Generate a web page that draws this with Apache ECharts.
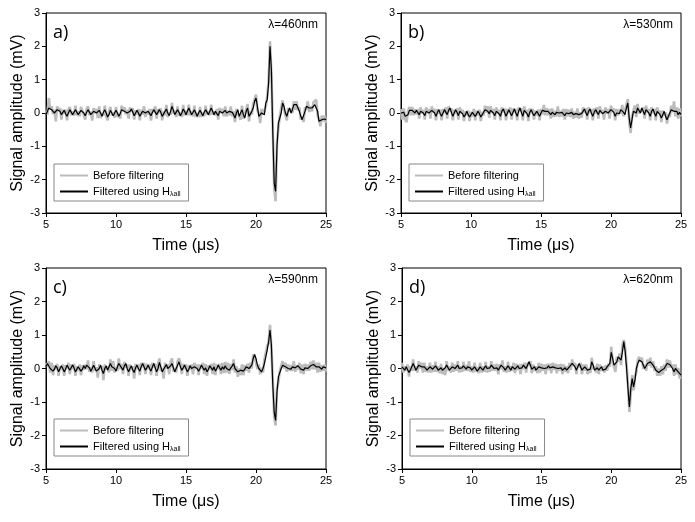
<!DOCTYPE html>
<html><head><meta charset="utf-8">
<script src="https://cdn.jsdelivr.net/npm/echarts@6/dist/echarts.min.js"></script>
<style>html,body{margin:0;padding:0;background:#fff}#c{width:695px;height:522px}</style>
</head><body><div id="c"></div>
<script>
// sampling grid (time, microseconds)
const tStart = 5, tStep = 0.1, nPts = 201;
const xTicks = [5, 10, 15, 20, 25];
const yTicks = [-3, -2, -1, 0, 1, 2, 3];
const panelLetters = ['a)', 'b)', 'c)', 'd)'];
const wavelengths = ['λ=460nm', 'λ=530nm', 'λ=590nm', 'λ=620nm'];
const seriesNames = ['Before filtering', 'Filtered using H'];

const aRaw = [
0.07,-0.05,0.45,0.1,0.2,-0.03,0.1,-0.25,0.2,0.05,
0.15,-0.2,0.1,-0.02,0.1,-0.22,0.1,0.18,-0.07,0.05,
-0.08,0.22,-0.07,0.05,-0.1,0.18,0.07,0.12,-0.2,0.12,
0.2,-0.07,0.05,-0.23,0.15,0.0,0.12,-0.15,0.2,-0.15,
0.0,-0.08,0.22,-0.1,-0.22,0.05,0.18,-0.07,0.02,-0.14,
0.18,-0.12,0.0,-0.17,0.22,0.05,0.17,-0.04,0.1,-0.17,
0.17,0.04,0.14,-0.2,0.08,-0.04,0.12,-0.22,0.1,-0.05,
0.2,-0.12,0.07,-0.05,0.12,-0.23,0.12,0.02,0.2,-0.17,
0.12,0.0,0.14,-0.22,0.05,-0.07,0.24,-0.12,0.02,-0.05,
0.3,-0.02,0.07,-0.12,0.2,-0.08,0.02,-0.12,0.24,-0.07,
0.07,-0.07,0.25,-0.07,0.05,-0.1,0.22,-0.12,0.0,-0.12,
0.18,-0.12,0.02,-0.1,0.22,-0.05,0.05,-0.07,0.25,-0.05,
0.05,-0.07,0.12,-0.2,0.15,0.0,0.12,-0.1,0.2,-0.1,
0.07,-0.07,0.2,-0.1,0.05,-0.27,0.12,0.0,0.0,-0.2,
0.22,-0.17,-0.05,-0.05,0.27,-0.25,0.05,-0.05,0.27,0.3,
0.55,0.08,0.0,-0.3,0.12,-0.05,0.07,0.2,0.5,0.95,
2.15,1.2,-0.45,-2.25,-2.65,-0.9,-0.45,-0.1,-0.12,0.38,
0.1,0.12,-0.22,0.15,0.05,0.12,0.0,0.35,0.1,0.35,
0.08,0.17,-0.2,-0.1,-0.27,0.17,0.1,0.35,0.03,0.2,
0.05,0.32,0.3,0.4,-0.07,-0.2,-0.4,-0.08,-0.25,-0.08,
-0.3];
const aFilt = [
-0.05,0.05,0.15,0.2,0.1,0.12,0.0,-0.05,0.1,0.15,
0.05,-0.05,0.0,0.08,-0.02,-0.1,0.0,0.1,0.05,-0.05,
0.02,0.1,0.05,-0.05,0.0,0.08,0.12,0.0,-0.08,0.02,
0.1,0.05,-0.05,-0.08,0.05,0.1,0.0,-0.05,0.08,0.0,
-0.1,0.02,0.1,0.0,-0.12,-0.05,0.08,0.05,-0.08,-0.02,
0.08,0.0,-0.1,-0.02,0.1,0.15,0.05,0.08,0.0,-0.05,
0.05,0.12,0.02,-0.08,-0.02,0.08,0.0,-0.1,-0.02,0.05,
0.1,0.0,-0.05,0.05,0.0,-0.08,0.02,0.1,0.05,-0.05,
0.0,0.1,0.02,-0.1,-0.05,0.05,0.12,0.0,-0.08,0.05,
0.2,0.08,-0.05,0.0,0.1,0.02,-0.08,0.0,0.12,0.05,
-0.05,0.05,0.15,0.05,-0.05,0.02,0.1,0.0,-0.1,0.0,
0.08,0.0,-0.08,0.02,0.1,0.05,-0.05,0.05,0.15,0.05,
-0.05,0.05,0.0,-0.08,0.05,0.1,0.0,0.02,0.08,0.0,
-0.05,0.05,0.1,0.02,-0.05,-0.15,0.0,0.1,-0.1,-0.05,
0.1,-0.05,-0.15,0.05,0.15,-0.1,-0.05,0.05,0.15,0.35,
0.45,0.2,-0.1,-0.15,0.0,0.05,-0.05,0.3,0.4,0.9,
2.0,1.3,-0.6,-2.1,-2.35,-1.0,-0.3,-0.25,0.0,0.3,
0.2,0.0,-0.1,0.05,0.15,0.0,0.1,0.25,0.2,0.25,
0.2,0.05,-0.1,-0.2,-0.15,0.05,0.2,0.25,0.15,0.1,
0.15,0.2,0.25,0.3,0.05,-0.25,-0.3,-0.2,-0.15,-0.18,
-0.2];

const bRaw = [
0.12,-0.2,0.14,-0.2,-0.27,0.05,0.18,-0.07,0.18,-0.07,
0.12,-0.04,0.12,-0.17,0.17,-0.02,0.1,-0.2,0.17,0.0,
0.12,-0.17,0.2,0.02,0.12,-0.22,0.12,-0.02,0.1,-0.22,
0.12,0.0,0.17,-0.17,0.2,0.05,0.14,-0.22,0.1,-0.02,
0.14,-0.2,0.17,0.0,0.1,-0.24,0.05,-0.07,0.07,-0.24,
0.04,-0.1,0.12,-0.22,0.07,-0.07,0.1,-0.24,0.04,-0.08,
0.22,0.02,0.2,-0.14,0.2,0.0,0.12,-0.2,0.17,-0.02,
0.1,-0.22,0.17,0.02,0.14,-0.22,0.12,0.0,0.17,-0.2,
0.14,0.02,0.12,-0.22,0.17,0.05,0.14,-0.22,0.2,0.0,
0.1,-0.24,0.14,0.0,0.12,-0.2,0.07,-0.07,0.1,-0.22,
0.12,-0.04,0.24,-0.07,0.14,-0.07,0.12,-0.17,0.14,-0.12,
0.07,-0.1,0.2,-0.12,0.07,-0.1,0.12,-0.2,0.12,-0.1,
0.1,-0.12,0.14,-0.17,0.04,-0.14,0.14,-0.17,0.02,-0.14,
0.17,0.0,0.14,-0.2,0.17,0.0,0.12,-0.22,0.14,-0.02,
0.17,-0.17,0.2,0.0,0.1,-0.2,0.17,-0.02,0.12,-0.17,
0.22,0.03,0.14,-0.22,0.12,-0.07,0.1,-0.02,0.24,-0.1,
0.07,0.05,0.42,-0.25,-0.6,-0.1,-0.07,0.22,-0.12,0.27,
-0.02,0.12,0.03,0.17,-0.17,0.22,0.03,0.12,-0.22,0.17,
0.0,0.12,-0.22,0.17,-0.02,0.07,-0.27,0.07,-0.07,0.02,
-0.32,-0.03,-0.12,0.22,0.03,0.35,-0.1,0.17,-0.17,0.14,
-0.1];
const bFilt = [
0.0,-0.05,0.02,-0.1,-0.15,-0.05,0.08,0.05,0.08,0.05,
0.0,0.08,0.02,-0.05,0.05,0.1,0.0,-0.08,0.05,0.1,
0.0,-0.05,0.08,0.12,0.0,-0.1,0.02,0.1,-0.02,-0.1,
0.0,0.1,0.05,-0.05,0.08,0.15,0.02,-0.1,0.0,0.1,
0.02,-0.08,0.05,0.1,-0.02,-0.12,-0.05,0.05,-0.05,-0.12,
-0.08,0.02,0.0,-0.1,-0.05,0.05,-0.02,-0.12,-0.08,0.02,
0.1,0.12,0.05,-0.02,0.08,0.12,0.0,-0.08,0.05,0.1,
-0.02,-0.1,0.05,0.12,0.02,-0.1,0.0,0.1,0.05,-0.08,
0.02,0.12,0.0,-0.1,0.05,0.15,0.02,-0.1,0.08,0.12,
-0.02,-0.12,0.02,0.1,0.0,-0.08,-0.05,0.05,-0.02,-0.1,
0.0,0.08,0.12,0.05,0.02,0.05,0.0,-0.05,0.02,0.0,
-0.05,0.02,0.08,0.0,-0.05,0.02,0.0,-0.08,0.0,0.02,
-0.02,0.0,0.02,-0.05,-0.08,-0.02,0.02,-0.05,-0.1,-0.02,
0.05,0.12,0.02,-0.08,0.05,0.12,0.0,-0.1,0.02,0.1,
0.05,-0.05,0.08,0.12,-0.02,-0.08,0.05,0.1,0.0,-0.05,
0.1,0.15,0.02,-0.1,0.0,0.05,-0.02,0.1,0.12,0.02,
-0.05,0.15,0.3,-0.15,-0.45,-0.2,0.05,0.1,0.0,0.15,
0.1,0.0,0.15,0.05,-0.05,0.1,0.15,0.0,-0.1,0.05,
0.12,0.0,-0.1,0.05,0.1,-0.05,-0.15,-0.05,0.05,-0.1,
-0.2,-0.15,0.0,0.1,0.15,0.05,0.02,0.05,-0.05,0.02,
-0.05];

const cRaw = [
0.17,0.05,0.22,-0.12,0.17,-0.2,0.1,-0.04,0.14,-0.22,
0.07,-0.04,0.12,-0.22,0.1,-0.02,0.17,-0.17,0.12,-0.02,
0.14,-0.22,0.07,-0.07,0.12,-0.2,0.1,-0.04,0.12,-0.02,
0.24,-0.1,0.04,-0.12,0.22,-0.07,0.04,-0.27,0.12,-0.02,
0.07,-0.35,0.12,-0.04,0.07,-0.12,0.27,-0.07,0.22,-0.12,
0.04,-0.07,0.3,-0.02,0.14,-0.17,0.2,0.03,0.12,-0.22,
0.12,-0.04,0.07,-0.3,0.14,-0.02,0.12,-0.2,0.17,0.03,
0.17,-0.17,0.14,-0.02,0.12,-0.2,0.17,0.03,0.14,-0.22,
0.12,0.3,-0.07,0.02,-0.3,0.17,0.0,0.12,-0.17,0.2,
0.3,-0.1,0.02,-0.12,0.22,0.3,0.17,-0.17,0.14,-0.02,
0.12,-0.22,0.1,-0.04,0.12,-0.17,0.17,-0.02,0.12,-0.2,
0.12,-0.02,0.17,-0.17,0.14,-0.22,0.1,-0.04,0.14,-0.17,
0.17,-0.2,0.12,-0.02,0.14,-0.17,0.17,-0.14,0.2,-0.12,
0.17,-0.17,0.14,-0.04,0.27,-0.12,0.07,-0.25,0.0,-0.2,
0.12,-0.2,0.1,-0.07,0.14,-0.12,0.17,0.0,0.42,0.35,
0.4,-0.02,0.12,-0.17,0.02,-0.12,0.27,0.25,0.68,0.75,
1.3,0.6,-0.35,-1.45,-1.7,-0.6,-0.4,-0.08,-0.12,0.22,
0.0,0.17,-0.1,0.12,-0.07,0.1,-0.07,0.22,-0.1,0.1,
-0.04,0.17,-0.14,0.12,-0.17,0.14,-0.07,0.12,-0.07,0.2,
-0.02,0.24,-0.02,0.17,-0.12,0.17,-0.1,0.1,-0.07,0.12,
-0.1];
const cFilt = [
0.05,0.15,0.1,0.0,0.05,-0.08,-0.02,0.08,0.02,-0.1,
-0.05,0.08,0.0,-0.1,-0.02,0.1,0.05,-0.05,0.0,0.1,
0.02,-0.1,-0.05,0.05,0.0,-0.08,-0.02,0.08,0.0,0.1,
0.12,0.02,-0.08,0.0,0.1,0.05,-0.08,-0.12,0.0,0.1,
-0.05,-0.15,0.0,0.08,-0.05,0.0,0.15,0.05,0.1,0.0,
-0.08,0.05,0.15,0.1,0.02,-0.05,0.08,0.15,0.0,-0.1,
0.0,0.08,-0.05,-0.12,0.02,0.1,0.0,-0.08,0.05,0.15,
0.05,-0.05,0.02,0.1,0.0,-0.08,0.05,0.15,0.02,-0.1,
0.0,0.18,0.05,-0.1,-0.15,0.05,0.12,0.0,-0.05,0.08,
0.15,0.02,-0.1,0.0,0.1,0.2,0.05,-0.05,0.02,0.1,
0.0,-0.1,-0.02,0.08,0.0,-0.05,0.05,0.1,0.0,-0.08,
0.0,0.1,0.05,-0.05,0.02,-0.1,-0.02,0.08,0.02,-0.05,
0.05,-0.08,0.0,0.1,0.02,-0.05,0.05,-0.02,0.08,0.0,
0.05,-0.05,0.02,0.08,0.15,0.0,-0.05,-0.1,-0.12,-0.05,
0.0,-0.08,-0.02,0.05,0.02,0.0,0.05,0.1,0.3,0.42,
0.3,0.1,0.0,-0.05,-0.1,0.0,0.15,0.35,0.55,0.8,
1.15,0.7,-0.5,-1.3,-1.55,-0.7,-0.25,-0.2,0.0,0.1,
0.12,0.05,0.02,0.0,0.05,-0.02,0.05,0.1,0.02,-0.02,
0.08,0.05,-0.02,0.0,-0.05,0.02,0.05,0.0,0.05,0.08,
0.1,0.12,0.1,0.05,0.0,0.05,0.02,-0.02,0.05,0.0,
0.02];

const dRaw = [
0.17,-0.12,0.07,-0.07,0.12,-0.24,0.07,-0.07,0.27,-0.07,
0.07,-0.12,0.22,0.0,0.17,-0.12,0.17,-0.1,0.07,-0.12,
0.17,-0.12,0.1,-0.1,0.2,-0.1,0.07,-0.14,0.14,-0.17,
0.02,-0.2,0.22,-0.07,0.07,-0.12,0.17,-0.1,0.12,-0.07,
0.22,-0.12,0.07,-0.1,0.2,-0.07,0.1,-0.07,0.22,-0.1,
0.07,-0.12,0.17,-0.1,0.04,-0.14,0.17,-0.12,0.07,-0.1,
0.2,-0.12,0.07,-0.1,0.22,-0.07,0.12,-0.07,0.14,-0.17,
0.12,-0.02,0.24,-0.1,0.07,-0.12,0.2,-0.1,0.07,-0.07,
0.17,-0.14,0.14,-0.04,0.12,-0.17,0.14,-0.02,0.17,-0.12,
0.17,0.08,0.22,-0.14,0.12,-0.07,0.07,-0.14,0.17,-0.12,
0.14,-0.07,0.12,-0.17,0.14,-0.04,0.14,-0.14,0.17,-0.04,
0.14,-0.14,0.12,-0.07,0.14,-0.17,0.12,-0.1,0.07,-0.14,
0.17,-0.04,0.27,0.08,0.17,-0.17,0.12,0.03,0.17,-0.17,
0.12,-0.07,0.12,-0.17,0.02,-0.14,0.32,-0.02,0.07,-0.12,
0.14,-0.17,0.12,-0.07,0.07,-0.12,0.1,-0.07,0.14,0.05,
0.65,0.2,0.25,-0.1,0.35,0.2,0.45,0.1,0.7,0.85,
0.6,0.1,-0.5,-1.3,-0.75,-0.2,-0.65,-0.25,-0.1,0.25,
0.35,0.2,0.32,-0.02,0.12,-0.07,0.27,0.08,0.32,0.03,
0.22,-0.07,0.07,-0.22,0.0,-0.22,0.07,-0.17,0.12,-0.07,
0.27,0.03,0.24,0.03,0.12,-0.22,0.12,-0.17,0.02,-0.27,
-0.3];
const dFilt = [
0.05,0.0,-0.05,0.05,0.0,-0.12,-0.05,0.05,0.15,0.05,
-0.05,0.0,0.1,0.12,0.05,0.0,0.05,0.02,-0.05,0.0,
0.05,0.0,-0.02,0.02,0.08,0.02,-0.05,-0.02,0.02,-0.05,
-0.1,0.02,0.1,0.05,-0.05,0.0,0.05,0.02,0.0,0.05,
0.1,0.0,-0.05,0.02,0.08,0.05,-0.02,0.05,0.1,0.02,
-0.05,0.0,0.05,0.02,-0.08,-0.02,0.05,0.0,-0.05,0.02,
0.08,0.0,-0.05,0.02,0.1,0.05,0.0,0.05,0.02,-0.05,
0.0,0.1,0.12,0.02,-0.05,0.0,0.08,0.02,-0.05,0.05,
0.05,-0.02,0.02,0.08,0.0,-0.05,0.02,0.1,0.05,0.0,
0.05,0.2,0.1,-0.02,0.0,0.05,-0.05,-0.02,0.05,0.0,
0.02,0.05,0.0,-0.05,0.02,0.08,0.02,-0.02,0.05,0.08,
0.02,-0.02,0.0,0.05,0.02,-0.05,0.0,0.02,-0.05,-0.02,
0.05,0.08,0.15,0.2,0.05,-0.05,0.0,0.15,0.05,-0.05,
0.0,0.05,0.0,-0.05,-0.1,-0.02,0.2,0.1,-0.05,0.0,
0.02,-0.05,0.0,0.05,-0.05,0.0,-0.02,0.05,0.02,0.15,
0.48,0.3,0.1,0.05,0.2,0.35,0.3,0.25,0.5,0.8,
0.5,0.0,-0.6,-1.15,-0.6,-0.3,-0.55,-0.35,0.0,0.15,
0.25,0.3,0.2,0.1,0.0,0.05,0.15,0.2,0.2,0.15,
0.1,0.05,-0.05,-0.1,-0.12,-0.1,-0.05,-0.05,0.0,0.05,
0.15,0.15,0.12,0.15,0.0,-0.1,0.0,-0.05,-0.1,-0.15,
-0.2];

const rawSets = [aRaw, bRaw, cRaw, dRaw];
const filtSets = [aFilt, bFilt, cFilt, dFilt];

const times = [];
for (let i = 0; i < nPts; i++) times.push(+(tStart + i * tStep).toFixed(2));
const pair = (arr) => arr.map((v, i) => [times[i], v]);

const FONT = 'Liberation Sans, Arial, sans-serif';
const GRAY = '#bcbcbc';
const grids = [
  {left: 46, top: 13, width: 280, height: 200},
  {left: 401, top: 13, width: 280, height: 200},
  {left: 46, top: 268, width: 280, height: 201},
  {left: 402, top: 268, width: 279, height: 201}
];

const option = {
  animation: false,
  backgroundColor: '#fff',
  grid: grids.map(g => Object.assign({show: true, borderColor: '#000', borderWidth: 1, backgroundColor: 'transparent'}, g)),
  xAxis: grids.map((g, k) => ({
    type: 'value', gridIndex: k, min: xTicks[0], max: xTicks[xTicks.length - 1], interval: 5,
    name: 'Time (μs)', nameLocation: 'middle', nameGap: 25,
    nameTextStyle: {fontFamily: FONT, fontSize: 16, color: '#000'},
    axisLine: {show: true, onZero: false, lineStyle: {color: '#000', width: 1}},
    axisTick: {show: true, inside: false, length: 4, lineStyle: {color: '#000'}},
    axisLabel: {fontFamily: FONT, fontSize: 11, color: '#000', margin: 6},
    splitLine: {show: false}
  })),
  yAxis: grids.map((g, k) => ({
    type: 'value', gridIndex: k, min: yTicks[0], max: yTicks[yTicks.length - 1], interval: 1,
    name: 'Signal amplitude (mV)', nameLocation: 'middle', nameGap: 20,
    nameTextStyle: {fontFamily: FONT, fontSize: 16, color: '#000'},
    axisLine: {show: true, onZero: false, lineStyle: {color: '#000', width: 1}},
    axisTick: {show: true, inside: false, length: 4, lineStyle: {color: '#000'}},
    axisLabel: {fontFamily: FONT, fontSize: 11, color: '#000', margin: 6},
    splitLine: {show: false}
  })),
  legend: grids.map((g, k) => ({
    data: [
      {name: seriesNames[0], icon: 'rect', itemStyle: {color: GRAY}},
      {name: seriesNames[1], icon: 'rect', itemStyle: {color: '#000'}}
    ],
    orient: 'vertical', left: g.left + 8, top: g.top + 151,
    selectedMode: false, itemWidth: 28, itemHeight: 2, itemGap: 3,
    padding: [5, 8, 3, 6], borderColor: '#888', borderWidth: 1, backgroundColor: '#fff',
    formatter: (name) => name === seriesNames[1] ? name + '{sub|λall}' : name,
    textStyle: {fontFamily: FONT, fontSize: 11, color: '#000', lineHeight: 13,
      rich: {sub: {fontFamily: FONT, fontSize: 7, color: '#000', padding: [6, 0, 0, 0]}}}
  })),
  graphic: grids.flatMap((g, k) => [
    {type: 'text', left: g.left + 7, top: g.top + 11, z: 10,
      style: {text: panelLetters[k], font: '18px "Open Sans", sans-serif', fill: '#000'}},
    {type: 'text', right: 695 - (g.left + g.width) + 8, top: g.top + 6, z: 10,
      style: {text: wavelengths[k], font: '12px ' + FONT, fill: '#000'}}
  ]),
  series: []
};

for (let k = 0; k < 4; k++) {
  option.series.push({
    name: seriesNames[0], type: 'line', xAxisIndex: k, yAxisIndex: k,
    data: pair(rawSets[k]), showSymbol: false, symbol: 'none', z: 2,
    lineStyle: {color: GRAY, width: 2.6}, itemStyle: {color: GRAY}
  });
  option.series.push({
    name: seriesNames[1], type: 'line', xAxisIndex: k, yAxisIndex: k,
    data: pair(filtSets[k]), showSymbol: false, symbol: 'none', z: 3,
    lineStyle: {color: '#000', width: 1.2}, itemStyle: {color: '#000'}
  });
}

const chart = echarts.init(document.getElementById('c'), null, {renderer: 'canvas'});
chart.setOption(option);
</script></body></html>
